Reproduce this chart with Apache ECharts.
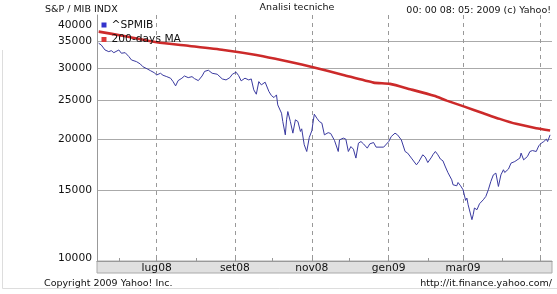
<!DOCTYPE html>
<html><head><meta charset="utf-8">
<script src="https://cdn.jsdelivr.net/npm/echarts@6/dist/echarts.min.js"></script>
<style>html,body{margin:0;padding:0;background:#fff}#c{width:557px;height:294px}</style>
</head><body><div id="c"></div>
<script>
const spmibDates = ['2008-05-16','2008-05-18','2008-05-21','2008-05-24','2008-05-26','2008-05-28','2008-06-01','2008-06-03','2008-06-06','2008-06-09','2008-06-11','2008-06-15','2008-06-18','2008-06-20','2008-06-24','2008-06-26','2008-06-29','2008-07-01','2008-07-04','2008-07-06','2008-07-09','2008-07-12','2008-07-14','2008-07-16','2008-07-18','2008-07-21','2008-07-23','2008-07-26','2008-07-29','2008-07-31','2008-08-03','2008-08-06','2008-08-08','2008-08-11','2008-08-14','2008-08-18','2008-08-22','2008-08-25','2008-08-28','2008-08-30','2008-09-02','2008-09-04','2008-09-06','2008-09-09','2008-09-12','2008-09-14','2008-09-16','2008-09-18','2008-09-20','2008-09-22','2008-09-25','2008-09-28','2008-09-30','2008-10-02','2008-10-04','2008-10-05','2008-10-08','2008-10-09','2008-10-11','2008-10-12','2008-10-13','2008-10-15','2008-10-17','2008-10-19','2008-10-21','2008-10-23','2008-10-24','2008-10-26','2008-10-28','2008-10-30','2008-11-01','2008-11-03','2008-11-05','2008-11-07','2008-11-09','2008-11-11','2008-11-14','2008-11-16','2008-11-19','2008-11-22','2008-11-23','2008-11-26','2008-11-28','2008-11-30','2008-12-02','2008-12-04','2008-12-06','2008-12-08','2008-12-10','2008-12-12','2008-12-15','2008-12-17','2008-12-20','2008-12-22','2008-12-28','2009-01-01','2009-01-03','2009-01-06','2009-01-08','2009-01-11','2009-01-14','2009-01-16','2009-01-19','2009-01-23','2009-01-25','2009-01-28','2009-01-30','2009-02-01','2009-02-04','2009-02-05','2009-02-07','2009-02-09','2009-02-11','2009-02-13','2009-02-15','2009-02-17','2009-02-20','2009-02-21','2009-02-24','2009-02-25','2009-02-27','2009-03-01','2009-03-03','2009-03-04','2009-03-05','2009-03-08','2009-03-09','2009-03-10','2009-03-12','2009-03-14','2009-03-17','2009-03-19','2009-03-21','2009-03-23','2009-03-25','2009-03-27','2009-03-29','2009-03-31','2009-04-02','2009-04-03','2009-04-06','2009-04-08','2009-04-11','2009-04-15','2009-04-16','2009-04-18','2009-04-21','2009-04-23','2009-04-25','2009-04-28','2009-04-30','2009-05-02','2009-05-04','2009-05-06','2009-05-07','2009-05-09'];
const spmibValues = [34640,34310,33340,33020,33210,32830,33340,32720,32830,32090,31490,31190,30780,30310,29870,29630,29290,28910,29190,28860,28630,28380,27830,27160,27990,28380,28740,28470,28630,28310,27990,28740,29500,29700,29190,29030,28260,28100,28470,29030,29360,28800,27950,28380,28100,28260,26550,25900,27830,27320,27740,26300,25700,25410,25800,24370,23240,22160,20540,22380,23460,22160,20740,22380,22160,20940,21260,19410,18680,20230,21020,23110,22590,22160,21960,20540,20800,20700,19900,18680,19960,20160,20040,18680,19210,18930,17990,19590,19770,19510,19040,19510,19660,19150,19150,19770,20340,20740,20540,19960,18680,18510,17990,17310,17640,18330,18090,17540,18090,18330,18680,18330,17890,17710,17100,16550,15890,15450,15360,15650,15360,15010,14130,14320,13780,12660,13020,13530,13400,13860,14180,14450,15010,15740,16350,16510,15300,16350,16830,16570,16900,17480,17640,17990,18510,17810,18150,18680,18780,18680,19290,19590,19770,20040,19770,20540];
const maDates = ['2008-05-16','2008-06-05','2008-07-01','2008-07-27','2008-08-23','2008-09-18','2008-10-04','2008-10-15','2008-11-02','2008-11-26','2008-12-20','2009-01-02','2009-01-18','2009-02-06','2009-02-16','2009-03-02','2009-03-17','2009-03-30','2009-04-12','2009-04-28','2009-05-09'];
const maValues = [37010,36120,34840,34110,33340,32410,31670,31130,30210,28910,27670,27470,26650,25660,24970,24130,23240,22500,21870,21340,21050];
const yLabelValues = [10000,15000,20000,25000,30000,35000,40000];
const yGridValues = [15000,20000,25000,30000,35000];
const monthTickDates = ['2008-06-01','2008-07-01','2008-08-01','2008-09-01','2008-10-01','2008-11-01','2008-12-01','2009-01-01','2009-02-01','2009-03-01','2009-04-01','2009-05-01'];
const gridMonthDates = ['2008-07-01','2008-09-01','2008-11-01','2009-01-01','2009-03-01','2009-05-01'];
const labelMonthDates = ['2008-07-01','2008-09-01','2008-11-01','2009-01-01','2009-03-01'];
const monthNames = ['gen','feb','mar','apr','mag','giu','lug','ago','set','ott','nov','dic'];
const seriesNames = ['^SPMIB','200-days MA'];

function ts(s){const p=s.split('-');return new Date(+p[0],+p[1]-1,+p[2]).getTime();}
const xMin = ts('2008-05-14') + 16*3600e3;
const xMax = ts('2009-05-10') + 12*3600e3;
const FONT = 'DejaVu Sans';

const chart = echarts.init(document.getElementById('c'), null, {renderer:'canvas'});
chart.setOption({
  animation:false,
  backgroundColor:'#fff',
  grid:{left:97,right:5,top:15,bottom:33,containLabel:false},
  legend:{
    orient:'vertical', left:101.5, top:18.5, padding:0, icon:'rect', itemWidth:5, itemHeight:5, itemGap:1.5,
    itemStyle:{borderWidth:0},
    textStyle:{fontFamily:FONT,fontSize:10.7,color:'#111',lineHeight:13},
    data:[
      {name:seriesNames[0],icon:'rect',itemStyle:{color:'#3333cc',borderWidth:0}},
      {name:seriesNames[1],icon:'rect',itemStyle:{color:'#dd3a3a',borderWidth:0}}
    ]
  },
  xAxis:[{
    type:'value', min:xMin, max:xMax, scale:true,
    axisLine:{show:true,lineStyle:{color:'#999',width:1}},
    axisTick:{show:false,customValues:gridMonthDates.map(ts)},
    splitLine:{show:true,lineStyle:{color:'#999',width:1,type:[4,4]}},
    axisLabel:{customValues:labelMonthDates.map(ts),fontFamily:FONT,fontSize:10.7,color:'#111',margin:2,
      formatter:function(v){const d=new Date(v);return monthNames[d.getMonth()]+String(d.getFullYear()).slice(2);}}
  },{
    type:'value', min:xMin, max:xMax, scale:true, position:'bottom',
    axisLine:{show:false},
    axisTick:{show:true,inside:true,length:3,customValues:monthTickDates.map(ts),lineStyle:{color:'#999'}},
    axisLabel:{show:false}, splitLine:{show:false}
  }],
  yAxis:{
    type:'log', logBase:10, min:10000, max:40700,
    axisLine:{show:true,lineStyle:{color:'#999'}},
    axisTick:{show:false,customValues:yGridValues},
    splitLine:{show:true,lineStyle:{color:'#aaa',width:1}},
    axisLabel:{customValues:yLabelValues,fontFamily:FONT,fontSize:10.7,color:'#111',margin:5,
      formatter:function(v){const r=Math.round(v);if(r===40000)return '{t|'+r+'}';if(r===10000)return '{b|'+r+'}';return String(r);},
      rich:{t:{fontFamily:FONT,fontSize:10.7,color:'#111',padding:[14,0,0,0]},b:{fontFamily:FONT,fontSize:10.7,color:'#111',padding:[0,0,5,0]}}}
  },
  graphic:[
    {type:'rect',z:-5,silent:true,shape:{x:97,y:261,width:455,height:12},style:{fill:'#e0e0e0',stroke:'#aaa',lineWidth:1}},
    {type:'polyline',silent:true,shape:{points:[[2.5,50],[2.5,288.5],[557,288.5]]},style:{stroke:'#ddd',fill:null,lineWidth:1}},
    {type:'text',silent:true,x:45,y:9.5,style:{text:'S&P / MIB INDX',font:'9.5px "DejaVu Sans"',fill:'#111',verticalAlign:'middle'}},
    {type:'text',silent:true,x:297,y:8,style:{text:'Analisi tecniche',font:'9.5px "DejaVu Sans"',fill:'#111',align:'center',verticalAlign:'middle'}},
    {type:'text',silent:true,x:551,y:11,style:{text:'00: 00 08: 05: 2009 (c) Yahoo!',font:'9.5px "DejaVu Sans"',fill:'#111',align:'right',verticalAlign:'middle'}},
    {type:'text',silent:true,x:44,y:283.5,style:{text:'Copyright 2009 Yahoo! Inc.',font:'9.5px "DejaVu Sans"',fill:'#111',align:'left',verticalAlign:'middle'}},
    {type:'text',silent:true,x:552,y:284,style:{text:'http://it.finance.yahoo.com/',font:'9.5px "DejaVu Sans"',fill:'#111',align:'right',verticalAlign:'middle'}}
  ],
  series:[{
    name:seriesNames[0], type:'line', xAxisIndex:0, showSymbol:false, symbol:'none', z:3,
    itemStyle:{color:'#3333cc'}, lineStyle:{color:'#3a3aa0',width:1},
    data:spmibDates.map((d,i)=>[ts(d),spmibValues[i]])
  },{
    name:seriesNames[1], type:'line', xAxisIndex:0, showSymbol:false, symbol:'none', smooth:0.2, z:2,
    itemStyle:{color:'#dd3a3a'}, lineStyle:{color:'#cc2a2a',width:2.6},
    data:maDates.map((d,i)=>[ts(d),maValues[i]])
  }]
});
</script></body></html>
